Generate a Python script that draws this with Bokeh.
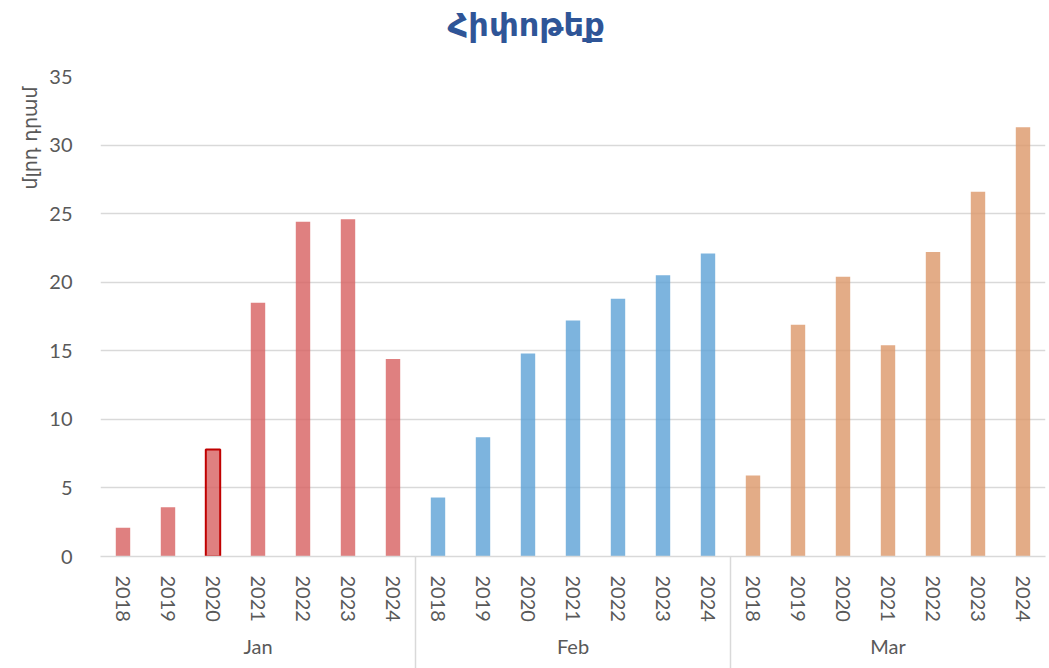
from bokeh.plotting import figure
from bokeh.models import (FactorRange, Range1d, FixedTicker, CategoricalAxis, Title,
                          ColumnDataSource, CustomLabelingPolicy)
from bokeh.embed import file_html
from bokeh.resources import INLINE

# ---------------- data ----------------
title_text = "Հիփոթեք"
y_label_text = "մլրդ դրամ"
months = ["Jan", "Feb", "Mar"]
years = ["2018", "2019", "2020", "2021", "2022", "2023", "2024"]
jan_values = [2.1, 3.6, 7.8, 18.5, 24.4, 24.6, 14.4]
feb_values = [4.3, 8.7, 14.8, 17.2, 18.8, 20.5, 22.1]
mar_values = [5.9, 16.9, 20.4, 15.4, 22.2, 26.6, 31.3]
highlight = ("Jan", "2020")
y_ticks = [0, 5, 10, 15, 20, 25, 30, 35]

# ---------------- styling ----------------
month_colors = {"Jan": "#D76060", "Feb": "#5DA1D6", "Mar": "#DC9769"}
label_color = "#595959"
grid_color = "#D9D9D9"
num_font = "Lato"
arm_font = "DejaVu Sans"

series = {"Jan": jan_values, "Feb": feb_values, "Mar": mar_values}
factors, tops, colors, line_alphas = [], [], [], []
for m in months:
    for y, v in zip(years, series[m]):
        factors.append((m, y))
        tops.append(v)
        colors.append(month_colors[m])
        line_alphas.append(1.0 if (m, y) == highlight else 0.0)

src = ColumnDataSource(dict(x=factors, top=tops, color=colors, la=line_alphas))

W, H = 1049, 668
left_b, right_b, top_b, bottom_b = 100, 4, 76, 112

p = figure(width=W, height=H,
           x_range=FactorRange(*factors, group_padding=0, range_padding=0, factor_padding=0),
           y_range=Range1d(y_ticks[0], y_ticks[-1]),
           output_backend="svg", toolbar_location=None,
           min_border_left=left_b, min_border_right=right_b,
           min_border_top=top_b, min_border_bottom=bottom_b)
p.outline_line_color = None
p.background_fill_color = "white"
p.border_fill_color = "white"

p.vbar(x="x", top="top", width=0.32, source=src,
       fill_color="color", fill_alpha=0.8,
       line_color="#C00000", line_alpha="la", line_width=2)

# grid
p.xgrid.grid_line_color = None
p.ygrid.grid_line_color = grid_color
p.ygrid.grid_line_width = 1.5
p.ygrid.ticker = FixedTicker(ticks=y_ticks)

# y axis
yax = p.yaxis[0]
yax.ticker = FixedTicker(ticks=y_ticks)
yax.axis_line_color = None
yax.major_tick_line_color = None
yax.minor_tick_line_color = None
yax.major_label_standoff = 22
yax.major_label_text_font = num_font
yax.major_label_text_font_size = "20px"
yax.major_label_text_color = label_color

# y axis title (top aligned, outside the tick labels)
p.add_layout(Title(text=y_label_text, text_font=arm_font, text_font_size="19px",
                   text_font_style="normal", text_color=label_color,
                   align="right", offset=10, standoff=12), "left")

# categorical x axis
xax = p.xaxis[0]
xax.axis_line_color = None
xax.major_tick_line_color = None
xax.minor_tick_line_color = None
xax.major_label_orientation = "vertical"
xax.major_label_standoff = 9
xax.major_label_text_font = num_font
xax.major_label_text_font_size = "20px"
xax.major_label_text_color = label_color
xax.group_text_font = num_font
xax.group_text_font_size = "20px"
xax.group_text_font_style = "normal"
xax.group_text_color = label_color
xax.separator_line_color = None

# separator axis: baseline + vertical group boundaries (one marker per boundary)
boundaries = ["b%d" % i for i in range(len(months) + 1)]
p.extra_x_ranges = {"sep": FactorRange(*boundaries, range_padding=-0.5,
                                       range_padding_units="absolute")}
hide_all = CustomLabelingPolicy(code="""
try { indices.clear(); }
catch (e) { for (const i of Array.from(indices)) { indices.unset(i); } }
return indices
""")
sep_axis = CategoricalAxis(x_range_name="sep",
                           axis_line_color=grid_color, axis_line_width=1.5,
                           major_tick_line_color=grid_color, major_tick_line_width=1.5,
                           major_tick_in=-120, major_tick_out=0,
                           minor_tick_line_color=None,
                           major_label_policy=hide_all,
                           major_label_text_font_size="1px",
                           major_label_standoff=0)
p.below = [sep_axis] + list(p.below)

# spacer between title and plot area (no visible marks)
spacer = CategoricalAxis(x_range_name="sep",
                         axis_line_color=None, major_tick_line_color=None,
                         major_tick_in=0, major_tick_out=27,
                         minor_tick_line_color=None,
                         major_label_policy=hide_all,
                         major_label_text_font_size="1px",
                         major_label_standoff=0)
main_title = Title(text=title_text, text_font=arm_font, text_font_style="bold",
                   text_font_size="32px", text_color="#2F5597",
                   align="left", offset=347, standoff=4)
p.title = None
p.above = [spacer, main_title]

open("out.html", "w").write(file_html(p, INLINE))
